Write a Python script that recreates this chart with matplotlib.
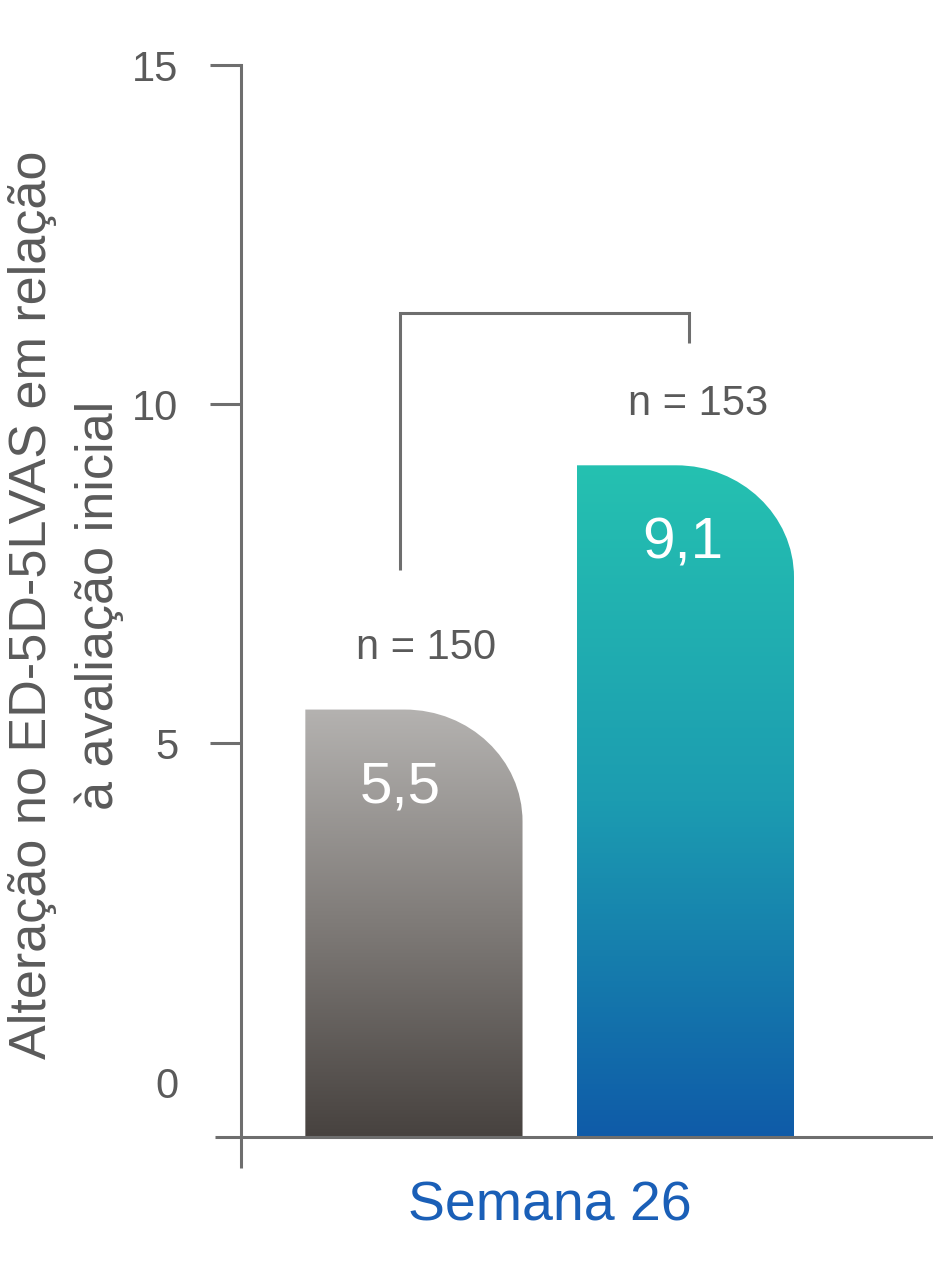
import matplotlib
matplotlib.use("Agg")
import matplotlib.pyplot as plt
import numpy as np
from matplotlib.path import Path
from matplotlib.patches import PathPatch
from matplotlib.colors import LinearSegmentedColormap

plt.rcParams['font.family'] = ['Liberation Sans', 'DejaVu Sans']

# ---- data ----
groups = ["Grupo A", "Grupo B"]
values = [5.5, 9.1]
value_labels = ["5,5", "9,1"]
n_labels = ["n = 150", "n = 153"]
category_label = "Semana 26"
yticks = [0, 5, 10, 15]
ytick_labels = ["0", "5", "10", "15"]
ylabel = "Alteração no ED-5D-5LVAS em relação\nà avaliação inicial"

W, H = 933, 1263
fig = plt.figure(figsize=(W / 100, H / 100), dpi=100)
ax_left, ax_right, ax_top, ax_bottom = 241, 933, 65, 1137
ax = fig.add_axes([ax_left / W, (H - ax_bottom) / H, (ax_right - ax_left) / W, (ax_bottom - ax_top) / H])

ymin, ymax = -0.8, 15
xmin, xmax = -0.637, 1.912
ax.set_ylim(ymin, ymax)
ax.set_xlim(xmin, xmax)
sx = (ax_right - ax_left) / (xmax - xmin)   # px per x unit
sy = (ax_bottom - ax_top) / (ymax - ymin)   # px per y unit

axis_col = "#6e6e6e"
text_col = "#5a5a5a"
xpos = np.arange(len(groups))
bar_w = 0.80

# invisible bars for geometry
bars = ax.bar(xpos, [v - ymin for v in values], bottom=ymin, width=bar_w, color="none", edgecolor="none")

cmaps = [
    LinearSegmentedColormap.from_list("g", ["#b4b2b0", "#7f7b78", "#47423f"]),
    LinearSegmentedColormap.from_list("t", ["#25c1b0", "#1c9cb1", "#0f5ba8"]),
]

rx = 118 / sx
ry = 112 / sy
k = 0.5523
for b, cmap in zip(bars, cmaps):
    x0 = b.get_x()
    x1 = x0 + b.get_width()
    y0 = b.get_y()
    top = y0 + b.get_height()
    verts = [(x0, y0), (x0, top), (x1 - rx, top),
             (x1 - rx + k * rx, top), (x1, top - ry + k * ry), (x1, top - ry),
             (x1, y0), (x0, y0)]
    codes = [Path.MOVETO, Path.LINETO, Path.LINETO,
             Path.CURVE4, Path.CURVE4, Path.CURVE4,
             Path.LINETO, Path.CLOSEPOLY]
    patch = PathPatch(Path(verts, codes), facecolor="none", edgecolor="none")
    ax.add_patch(patch)
    grad = np.linspace(0, 1, 256).reshape(-1, 1)
    im = ax.imshow(grad, cmap=cmap, extent=(x0, x1, y0, top), aspect="auto",
                   origin="upper", zorder=2)
    im.set_clip_path(patch)
ax.set_xlim(xmin, xmax)
ax.set_ylim(ymin, ymax)

# value labels and n labels
val_dx = [-0.05, -0.01]
for xp, dx, v, vl, nl in zip(xpos, val_dx, values, value_labels, n_labels):
    ax.text(xp + dx, v - 1.15, vl, ha="center", va="center", color="white", fontsize=42, zorder=3)
    ax.text(xp + 0.045, v + 0.9, nl, ha="center", va="center", color=text_col, fontsize=30, zorder=3)

# significance bracket
yl = values[0] + 2.05
yr = values[1] + 1.8
yt = values[1] + 2.25
ax.plot([xpos[0] - 0.05, xpos[0] - 0.05, xpos[1] + 0.015, xpos[1] + 0.015], [yl, yt, yt, yr],
        color=axis_col, lw=2.2, solid_capstyle="butt", solid_joinstyle="miter", zorder=3)

# axes styling
for s in ["top", "right"]:
    ax.spines[s].set_visible(False)
for s in ["left", "bottom"]:
    ax.spines[s].set_color(axis_col)
    ax.spines[s].set_linewidth(2.2)
ax.set_yticks(yticks)
ax.set_yticklabels(ytick_labels)
ax.tick_params(axis="y", length=22, width=2.2, color=axis_col, labelcolor=text_col, labelsize=30, pad=23)
ax.yaxis.get_major_ticks()[0].tick1line.set_visible(False)
ax.set_xticks([xpos.mean()])
ax.set_xticklabels([category_label])
ax.tick_params(axis="x", length=0, labelcolor="#1a5fb7", labelsize=40, pad=31)

# spine extensions
ax.plot([-(ax_left - 215) / (ax_right - ax_left), 0], [0, 0], transform=ax.transAxes,
        color=axis_col, lw=2.2, clip_on=False, solid_capstyle="butt")
ax.plot([0, 0], [0, -(1168 - ax_bottom) / (ax_bottom - ax_top)], transform=ax.transAxes,
        color=axis_col, lw=2.2, clip_on=False, solid_capstyle="butt")

fig.text(66 / W, 1 - 605 / H, ylabel, rotation=90, ha="center", va="center",
         multialignment="center", color=text_col, fontsize=37.5, linespacing=1.45)

fig.savefig("out.png", dpi=100)
